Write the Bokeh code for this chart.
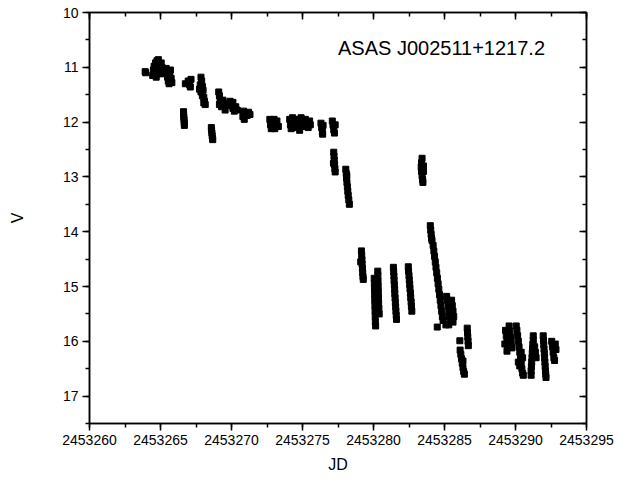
from bokeh.plotting import figure
from bokeh.models import (Range1d, LinearAxis, SingleIntervalTicker, BasicTickFormatter,
                          Label, CustomJSTickFormatter, ColumnDataSource)
from bokeh.embed import file_html
from bokeh.resources import INLINE

JD0 = 2453260
title_text = "ASAS J002511+1217.2"

# observations per night: time (JD - 2453260) and V magnitude
t01 = [3.92, 3.96]
v01 = [11.08, 11.10]
t02 = [4.45, 4.50, 4.55, 4.60, 4.65, 4.70, 4.75, 4.80, 4.85, 4.90, 4.95, 5.00, 5.05, 5.10, 5.15]
v02 = [11.15, 11.05, 10.98, 11.10, 10.92, 11.18, 10.88, 11.02, 10.86, 10.95, 11.05, 11.12, 10.92, 11.00, 11.08]
t03 = [5.40, 5.45, 5.50, 5.55, 5.60, 5.60, 5.65, 5.70, 5.75, 5.80]
v03 = [11.02, 11.10, 11.18, 11.25, 11.30, 11.22, 11.12, 11.05, 11.20, 11.28]
t04 = [6.62, 6.63, 6.64, 6.66, 6.67, 6.68]
v04 = [11.81, 11.86, 11.91, 11.96, 12.01, 12.06]
t05 = [6.75, 6.95, 7.05, 7.10, 7.15]
v05 = [11.30, 11.25, 11.32, 11.36, 11.22]
t06 = [7.75, 7.80, 7.85, 7.85, 7.90, 7.95, 7.95, 8.00, 8.05, 8.05, 8.10, 8.15]
v06 = [11.40, 11.32, 11.18, 11.45, 11.25, 11.35, 11.52, 11.42, 11.55, 11.65, 11.62, 11.68]
t07 = [8.58, 8.60, 8.62, 8.64, 8.66, 8.68]
v07 = [12.10, 12.15, 12.20, 12.25, 12.30, 12.32]
t08 = [9.10, 9.15, 9.15, 9.20, 9.25, 9.30, 9.40, 9.45, 9.50, 9.55]
v08 = [11.45, 11.52, 11.68, 11.60, 11.65, 11.72, 11.60, 11.65, 11.70, 11.78]
t09 = [9.90, 10.00, 10.10, 10.10, 10.20, 10.30, 10.40]
v09 = [11.62, 11.70, 11.64, 11.75, 11.80, 11.72, 11.78]
t10 = [10.80, 10.85, 10.90, 11.00, 11.10, 11.20, 11.30]
v10 = [11.90, 11.80, 11.95, 11.85, 11.88, 11.82, 11.86]
t11 = [12.70, 12.75, 12.80, 12.90, 13.00, 13.05, 13.10, 13.20, 13.30]
v11 = [11.95, 12.05, 12.12, 12.00, 11.95, 12.12, 12.05, 11.98, 12.08]
t12 = [14.10, 14.15, 14.20, 14.30, 14.40, 14.50, 14.55, 14.65, 14.70, 14.80, 14.90, 15.00,
       15.10, 15.20, 15.30, 15.40, 15.50, 15.55]
v12 = [11.95, 12.05, 12.12, 11.92, 11.98, 12.02, 12.10, 11.95, 12.05, 12.15, 11.92, 12.00,
       12.08, 11.95, 12.02, 12.10, 11.98, 12.05]
t13 = [16.30, 16.35, 16.40, 16.42, 16.45]
v13 = [12.02, 12.10, 12.18, 12.22, 12.06]
t14 = [17.10, 17.15, 17.20, 17.25, 17.30]
v14 = [11.98, 12.06, 12.14, 12.20, 12.05]
t15 = [17.18, 17.20, 17.22, 17.24, 17.26, 17.28, 17.30]
v15 = [12.75, 12.55, 12.62, 12.70, 12.78, 12.85, 12.91]
t16 = [18.05, 18.08, 18.10, 18.12, 18.13, 18.16, 18.19, 18.22, 18.26, 18.30]
v16 = [12.86, 12.94, 13.02, 12.98, 13.10, 13.18, 13.26, 13.34, 13.42, 13.50]
t17 = [19.10, 19.15, 19.17, 19.19, 19.20, 19.22, 19.24, 19.26, 19.28]
v17 = [14.55, 14.35, 14.43, 14.51, 14.59, 14.67, 14.75, 14.82, 14.87]
t18 = [20.05, 20.06, 20.07, 20.08, 20.09, 20.10, 20.11, 20.12, 20.13, 20.15,
       20.30, 20.31, 20.32, 20.33, 20.34, 20.35, 20.36, 20.38, 20.40]
v18 = [14.85, 14.95, 15.05, 15.15, 15.25, 15.35, 15.45, 15.55, 15.65, 15.72,
       14.72, 14.80, 14.90, 15.00, 15.10, 15.20, 15.30, 15.40, 15.50]
t19 = [21.40, 21.42, 21.44, 21.45, 21.47, 21.49, 21.50, 21.52, 21.54, 21.56, 21.58, 21.60, 21.62]
v19 = [14.65, 14.73, 14.81, 14.89, 14.97, 15.05, 15.13, 15.21, 15.29, 15.37, 15.45, 15.53, 15.60]
t20 = [22.45, 22.47, 22.50, 22.52, 22.55, 22.57, 22.60, 22.62, 22.65, 22.67, 22.70]
v20 = [14.64, 14.72, 14.80, 14.88, 14.96, 15.04, 15.12, 15.20, 15.28, 15.36, 15.45]
t21 = [23.42, 23.38, 23.36, 23.38, 23.42, 23.46, 23.48, 23.52, 23.52]
v21 = [12.66, 12.74, 12.82, 12.90, 12.98, 13.05, 13.10, 12.80, 12.90]
t22 = [24.00, 24.03, 24.06, 24.09, 24.12]
v22 = [13.89, 13.97, 14.05, 14.12, 14.16]
t23 = [24.20, 24.25, 24.30, 24.35, 24.40, 24.45, 24.50, 24.55, 24.60, 24.65, 24.70, 24.75,
       24.80, 24.85, 24.90, 24.49]
v23 = [14.25, 14.35, 14.45, 14.55, 14.65, 14.75, 14.85, 14.95, 15.05, 15.15, 15.25, 15.35,
       15.45, 15.55, 15.62, 15.74]
t24 = [25.15, 25.20, 25.25, 25.30, 25.35, 25.40, 25.50, 25.55, 25.60, 25.65, 25.60, 25.10, 25.30]
v24 = [15.18, 15.25, 15.35, 15.45, 15.55, 15.62, 15.25, 15.35, 15.45, 15.55, 15.65, 15.70, 15.70]
t25 = [26.60, 26.62, 26.64, 26.66, 26.68, 26.08]
v25 = [15.76, 15.84, 15.92, 16.00, 16.08, 15.99]
t26 = [26.10, 26.15, 26.20, 26.25, 26.30, 26.30, 26.35, 26.40]
v26 = [16.16, 16.24, 16.32, 16.40, 16.36, 16.48, 16.55, 16.60]
t27 = [29.25, 29.30, 29.35, 29.40, 29.40, 29.45, 29.55, 29.60, 29.65, 29.70, 29.75]
v27 = [16.05, 15.80, 15.90, 16.00, 16.18, 16.10, 15.72, 15.82, 15.92, 16.02, 16.12]
t28 = [30.05, 30.10, 30.15, 30.20, 30.20, 30.25, 30.30, 30.30, 30.35, 30.40, 30.40, 30.45,
       30.50, 30.50, 30.55]
v28 = [15.72, 15.80, 15.90, 16.00, 16.38, 16.10, 16.20, 16.45, 16.30, 16.40, 16.20, 16.50,
       16.58, 16.30, 16.62]
t29 = [31.25, 31.25, 31.22, 31.20, 31.18, 31.16, 31.14, 31.12, 31.10, 31.10, 31.35, 31.40, 31.45]
v29 = [15.90, 15.98, 16.06, 16.14, 16.22, 16.30, 16.38, 16.46, 16.54, 16.62, 16.10, 16.20, 16.30]
t30 = [31.95, 31.97, 31.99, 32.01, 32.03, 32.05, 32.07, 32.09, 32.11, 32.13, 32.15]
v30 = [15.90, 15.98, 16.06, 16.14, 16.22, 16.30, 16.38, 16.46, 16.54, 16.60, 16.66]
t31 = [32.55, 32.60, 32.65, 32.70, 32.75, 32.80, 32.85]
v31 = [16.00, 16.10, 16.20, 16.30, 16.35, 16.05, 16.15]

t_all = (t01 + t02 + t03 + t04 + t05 + t06 + t07 + t08 + t09 + t10 + t11 + t12 + t13 + t14 + t15
         + t16 + t17 + t18 + t19 + t20 + t21 + t22 + t23 + t24 + t25 + t26 + t27 + t28 + t29
         + t30 + t31)
v_all = (v01 + v02 + v03 + v04 + v05 + v06 + v07 + v08 + v09 + v10 + v11 + v12 + v13 + v14 + v15
         + v16 + v17 + v18 + v19 + v20 + v21 + v22 + v23 + v24 + v25 + v26 + v27 + v28 + v29
         + v30 + v31)
assert len(t_all) == len(v_all)

src = ColumnDataSource(dict(jd=[JD0 + t for t in t_all], v=v_all))

FONT = "Liberation Sans"

p = figure(width=620, height=480, output_backend="svg", toolbar_location=None,
           x_range=Range1d(2453260, 2453295), y_range=Range1d(17.5, 10),
           min_border_left=89, min_border_top=12, min_border_right=34, min_border_bottom=57,
           x_axis_label="JD", y_axis_label="V")
p.xgrid.visible = False
p.ygrid.visible = False
p.outline_line_color = "black"
p.outline_line_width = 1.5
p.background_fill_color = "white"
p.border_fill_color = "white"

xt = SingleIntervalTicker(interval=5, num_minor_ticks=2)
yt = SingleIntervalTicker(interval=1, num_minor_ticks=2)

for ax, tk in ((p.xaxis[0], xt), (p.yaxis[0], yt)):
    ax.ticker = tk
    ax.axis_line_width = 1.5
    ax.axis_line_color = "black"
    ax.major_tick_line_width = 1.5
    ax.minor_tick_line_width = 1.5
    ax.major_tick_out = 7
    ax.major_tick_in = 0
    ax.minor_tick_out = 4
    ax.minor_tick_in = 0
    ax.major_label_text_font = FONT
    ax.major_label_text_font_size = "14px"
    ax.major_label_text_color = "black"
    ax.axis_label_text_font = FONT
    ax.axis_label_text_font_size = "16px"
    ax.axis_label_text_font_style = "normal"
    ax.axis_label_text_color = "black"

p.xaxis[0].formatter = BasicTickFormatter(use_scientific=False)
p.xaxis[0].major_label_standoff = 4
p.xaxis[0].axis_label_standoff = 8
p.yaxis[0].major_label_standoff = 4
p.yaxis[0].axis_label_standoff = 34

blank = CustomJSTickFormatter(code="return ''")
for loc, tk in (("right", SingleIntervalTicker(interval=1, num_minor_ticks=2)),
                ("above", SingleIntervalTicker(interval=5, num_minor_ticks=2))):
    ax = LinearAxis(ticker=tk, formatter=blank, axis_line_width=1.5, axis_line_color="black",
                    major_tick_in=7, major_tick_out=0, minor_tick_in=4, minor_tick_out=0,
                    major_tick_line_width=1.5, minor_tick_line_width=1.5,
                    major_label_text_font_size="0px", major_label_standoff=0)
    p.add_layout(ax, loc)

p.scatter(x="jd", y="v", source=src, marker="square", size=6,
          fill_color="black", line_color="black")

p.add_layout(Label(x=2453277.5, y=10.64, text=title_text, text_font=FONT,
                   text_font_size="20px", text_color="black", text_baseline="middle",
                   text_align="left"))

open("out.html", "w").write(file_html(p, INLINE))
